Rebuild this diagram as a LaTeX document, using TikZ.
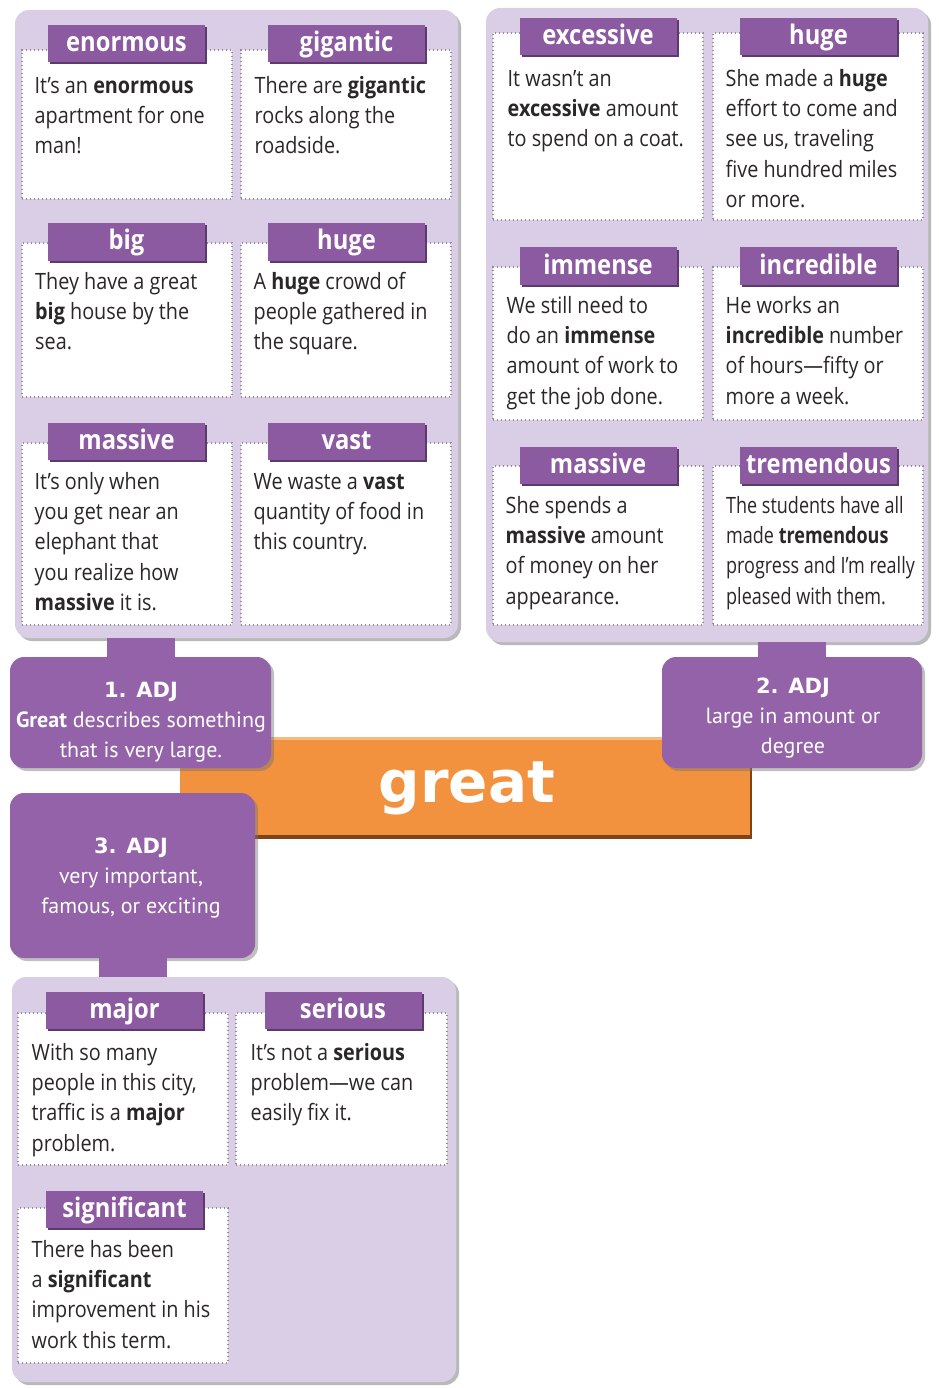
\documentclass[tikz,border=0pt]{standalone}
\usepackage{fontspec}
\setmainfont{Open Sans}[FakeStretch=0.88]
\newfontfamily\condfont{Open Sans}[FakeStretch=0.8]
\newfontfamily\deffont{PT Sans}
\newfontfamily\heavyfont{DejaVu Sans}
\usetikzlibrary{shadows}
\definecolor{panelfill}{HTML}{D9CEE6}
\definecolor{tabfill}{HTML}{8C5AA0}
\definecolor{tabshade}{HTML}{5C3B6C}
\definecolor{deffill}{HTML}{9462A8}
\definecolor{barfill}{HTML}{F2923E}
\definecolor{barlight}{HTML}{F8B97E}
\definecolor{barshade}{HTML}{7E4418}
\definecolor{dotcol}{HTML}{958AA0}
\definecolor{bodytext}{HTML}{2B2728}
\newcommand\fs{\rule{0pt}{18pt}}
\newcommand\adjfont{\heavyfont\bfseries\fontsize{21}{30}\selectfont}
\tikzset{
 panel/.style={fill=panelfill, rounded corners=14pt, inner sep=0pt,
   drop shadow={shadow xshift=3pt, shadow yshift=-3pt, fill=black!50, opacity=.55}},
 card/.style={fill=white, draw=dotcol, line width=1.3pt, dash pattern=on 1.3pt off 2.7pt, inner sep=0pt},
 tab/.style={fill=tabfill, text=white, inner sep=0pt, minimum width=157pt, minimum height=37pt,
   text height=20pt, text depth=4pt, font=\fontsize{27}{30}\selectfont\bfseries,
   drop shadow={shadow xshift=2pt, shadow yshift=-2pt, fill=tabshade, opacity=1}},
 body/.style={anchor=north west, inner sep=0pt, align=left, text=bodytext, font=\fontsize{22.5}{30.3}\selectfont},
 defbox/.style={fill=deffill, rounded corners=14pt, inner sep=0pt,
   drop shadow={shadow xshift=3pt, shadow yshift=-3pt, fill=black!55, opacity=.45}},
 deftext/.style={anchor=north, inner sep=0pt, align=center, text=white, font=\deffont\fontsize{22}{30}\selectfont},
 stem/.style={draw=deffill, line width=68pt},
}
\begin{document}
\begin{tikzpicture}[x=1pt,y=-1pt]
\useasboundingbox (0,0) rectangle (938,1388);
% panels
\node[panel, minimum width=443pt, minimum height=628pt] (p1) at (236.5,324) {};
\node[panel, minimum width=442pt, minimum height=634pt] (p2) at (707,325) {};
\node[panel, minimum width=444pt, minimum height=405pt] (p3) at (234,1179.5) {};
% cards panel 1
\node[card, minimum width=210pt, minimum height=149pt] (c11) at (127,124.5) {};
\node[card, minimum width=210pt, minimum height=149pt] (c12) at (346,124.5) {};
\node[card, minimum width=210pt, minimum height=154pt] (c21) at (127,320) {};
\node[card, minimum width=210pt, minimum height=154pt] (c22) at (346,320) {};
\node[card, minimum width=210pt, minimum height=182pt] (c31) at (127,534) {};
\node[card, minimum width=210pt, minimum height=182pt] (c32) at (346,534) {};
% cards panel 2
\node[card, minimum width=210pt, minimum height=187pt] (d11) at (598,126.5) {};
\node[card, minimum width=210pt, minimum height=187pt] (d12) at (818,126.5) {};
\node[card, minimum width=210pt, minimum height=153pt] (d21) at (598,343.5) {};
\node[card, minimum width=210pt, minimum height=153pt] (d22) at (818,343.5) {};
\node[card, minimum width=210pt, minimum height=159pt] (d31) at (598,545.5) {};
\node[card, minimum width=210pt, minimum height=159pt] (d32) at (818,545.5) {};
% cards panel 3
\node[card, minimum width=210pt, minimum height=152pt] (e11) at (123,1089) {};
\node[card, minimum width=211pt, minimum height=152pt] (e12) at (341.5,1089) {};
\node[card, minimum width=210pt, minimum height=155pt] (e21) at (123,1285.5) {};
% tabs
\node[tab] (t11) at (126.5,43.5) {enormous};
\node[tab] (t12) at (346.5,43.5) {gigantic};
\node[tab] (t21) at (126.5,242) {big};
\node[tab] (t22) at (346.5,242) {huge};
\node[tab] (t31) at (126.5,441) {massive};
\node[tab] (t32) at (346.5,441) {vast};
\node[tab] (u11) at (598,37) {excessive};
\node[tab] (u12) at (818.5,37) {huge};
\node[tab] (u21) at (598,266) {immense};
\node[tab] (u22) at (818.5,266) {incredible};
\node[tab] (u31) at (598,465) {massive};
\node[tab] (u32) at (818.5,465) {tremendous};
\node[tab] (v11) at (124.5,1010.5) {major};
\node[tab] (v12) at (343,1010.5) {serious};
\node[tab] (v21) at (124.5,1209) {significant};
% body texts
\node[body] (b11) at (34.5,75) {\fs It’s an \textbf{enormous}\\apartment for one\\man!};
\node[body] (b12) at (254.5,75) {\fs There are \textbf{gigantic}\\rocks along the\\roadside.};
\node[body] (b21) at (35,271) {\fs They have a great\\\textbf{big} house by the\\sea.};
\node[body] (b22) at (253.5,271) {\fs A \textbf{huge} crowd of\\people gathered in\\the square.};
\node[body] (b31) at (34.5,471) {\fs It’s only when\\you get near an\\elephant that\\you realize how\\\textbf{massive} it is.};
\node[body] (b32) at (253.5,471) {\fs We waste a \textbf{vast}\\quantity of food in\\this country.};
\node[body] (g11) at (507.5,68) {\fs It wasn’t an\\\textbf{excessive} amount\\to spend on a coat.};
\node[body] (g12) at (725.5,68) {\fs She made a \textbf{huge}\\effort to come and\\see us, traveling\\five hundred miles\\or more.};
\node[body] (g21) at (506.5,295) {\fs We still need to\\do an \textbf{immense}\\amount of work to\\get the job done.};
\node[body] (g22) at (725.5,295) {\fs He works an\\\textbf{incredible} number\\of hours—fifty or\\more a week.};
\node[body] (g31) at (505.5,495) {\fs She spends a\\\textbf{massive} amount\\of money on her\\appearance.};
\node[body, font=\condfont\fontsize{22.5}{30.3}\selectfont] (g32) at (726,495) {\fs The students have all\\made \textbf{tremendous}\\progress and I’m really\\pleased with them.};
\node[body] (h11) at (31.5,1042) {\fs With so many\\people in this city,\\traffic is a \textbf{major}\\problem.};
\node[body] (h12) at (250.5,1042) {\fs It’s not a \textbf{serious}\\problem—we can\\easily fix it.};
\node[body] (h21) at (31.5,1239) {\fs There has been\\a \textbf{significant}\\improvement in his\\work this term.};
% orange bar
\node[fill=barfill, minimum width=570pt, minimum height=98pt, inner sep=0pt,
  drop shadow={shadow xshift=2pt, shadow yshift=-4pt, fill=barshade, opacity=1}] (bar) at (465,786) {};
\fill[barlight] (bar.north west) rectangle ([yshift=-3pt]bar.north east);
\node[font=\heavyfont\bfseries\fontsize{58}{60}\selectfont, text=white, anchor=base, inner sep=0pt] (word) at (467,802) {great};
% definition boxes
\node[defbox, minimum width=261pt, minimum height=111pt] (def1) at (140.5,712.5) {};
\node[defbox, minimum width=260pt, minimum height=111pt] (def2) at (792,712.5) {};
\node[defbox, minimum width=245pt, minimum height=165pt] (def3) at (132.5,875.5) {};
\node[deftext] (dt1) at (141,679) {\fs{\adjfont 1. ADJ}\\\textbf{Great} describes something\\that is very large.};
\node[deftext] (dt2) at (793,675) {\fs{\adjfont 2. ADJ}\\large in amount or\\degree};
\node[deftext] (dt3) at (131,835) {\fs{\adjfont 3. ADJ}\\very important,\\famous, or exciting};
% stems
\draw[stem] (def1.north) -- (def1.north |- p1.south);
\draw[stem] (def2.north) -- (def2.north |- p2.south);
\draw[stem] (def3.south) -- (def3.south |- p3.north);
\end{tikzpicture}
\end{document}
